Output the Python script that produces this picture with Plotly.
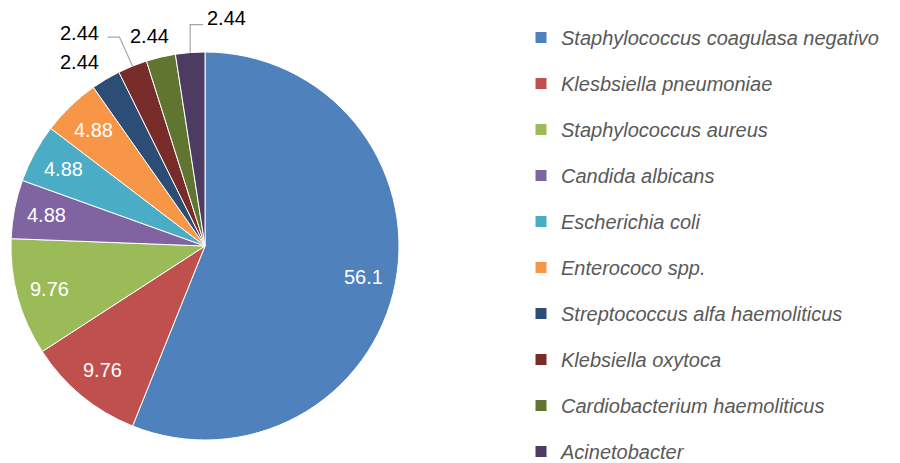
import math
import plotly.graph_objects as go

labels = [
    "Staphylococcus coagulasa negativo",
    "Klesbsiella pneumoniae",
    "Staphylococcus aureus",
    "Candida albicans",
    "Escherichia coli",
    "Enterococo spp.",
    "Streptococcus alfa haemoliticus",
    "Klebsiella oxytoca",
    "Cardiobacterium haemoliticus",
    "Acinetobacter",
]
values = [56.1, 9.76, 9.76, 4.88, 4.88, 4.88, 2.44, 2.44, 2.44, 2.44]
colors = ["#4F81BD", "#C0504D", "#9BBB59", "#8064A2", "#4BACC6",
          "#F79646", "#2C4D75", "#772C2A", "#5F7530", "#4D3B62"]

OFF = 8  # page body margin
W, H = 900, 463
FONT = "Arial, Liberation Sans, sans-serif"


def px2x(p):
    return (p - OFF) / W


def px2y(p):
    return 1 - (p - OFF) / H


dom_x = [px2x(11), px2x(399)]
dom_y = [px2y(440), px2y(52)]
cx, cy = 205, 246
R = 194

# label placement style
inside_frac = 0.83
# index: (label dx, label dy, leader path as list of (dx, dy) from slice edge, or None)
outside_style = {
    6: (-26, -17, None),
    7: (-53, -33, [(0, 0), (-13, -29), (-25, -29)]),
    8: (-11, -21, None),
    9: (36, -35, [(0, 0), (0, -28), (13, -28)]),
}

fig = go.Figure()
fig.add_trace(go.Pie(
    labels=labels, values=values, sort=False, direction="clockwise", rotation=0,
    marker=dict(colors=colors, line=dict(color="white", width=1)),
    textinfo="none", hoverinfo="label+value", showlegend=False,
    domain=dict(x=dom_x, y=dom_y),
))

for lab, col in zip(labels, colors):
    fig.add_trace(go.Scatter(
        x=[None], y=[None], mode="markers", name=lab, legendgroup=lab,
        marker=dict(symbol="square", size=11, color=col),
    ))

total = sum(values)
cum = 0.0
annotations = []
shapes = []
for i, v in enumerate(values):
    mid = (cum + v / 2) / total * 2 * math.pi
    cum += v
    s, c = math.sin(mid), math.cos(mid)
    txt = f"{v:g}"
    if i in outside_style:
        ox, oy, leader = outside_style[i]
        ex, ey = cx + R * s, cy - R * c
        annotations.append(dict(
            x=px2x(ex + ox), y=px2y(ey + oy), xref="paper", yref="paper",
            xanchor="center", yanchor="middle",
            text=txt, showarrow=False,
            font=dict(family=FONT, size=20, color="#000000"),
        ))
        if leader:
            path = " ".join(
                ("M" if k == 0 else "L") + f" {px2x(ex + dx):.5f},{px2y(ey + dy):.5f}"
                for k, (dx, dy) in enumerate(leader)
            )
            shapes.append(dict(type="path", path=path, xref="paper", yref="paper",
                               line=dict(color="#A6A6A6", width=1.2)))
    else:
        p_x, p_y = cx + inside_frac * R * s, cy - inside_frac * R * c
        annotations.append(dict(
            x=px2x(p_x), y=px2y(p_y), xref="paper", yref="paper",
            xanchor="center", yanchor="middle",
            text=txt, showarrow=False,
            font=dict(family=FONT, size=20, color="#FFFFFF"),
        ))

fig.update_layout(
    width=W, height=H, margin=dict(l=0, r=0, t=0, b=0),
    paper_bgcolor="white", plot_bgcolor="white",
    xaxis=dict(visible=False), yaxis=dict(visible=False),
    annotations=annotations, shapes=shapes,
    legend=dict(
        x=px2x(521), y=px2y(20), xanchor="left", yanchor="top",
        font=dict(family=FONT, size=20, color="#595959", style="italic"),
        tracegroupgap=17, itemclick=False, itemdoubleclick=False,
    ),
)
fig.write_html("out.html")
